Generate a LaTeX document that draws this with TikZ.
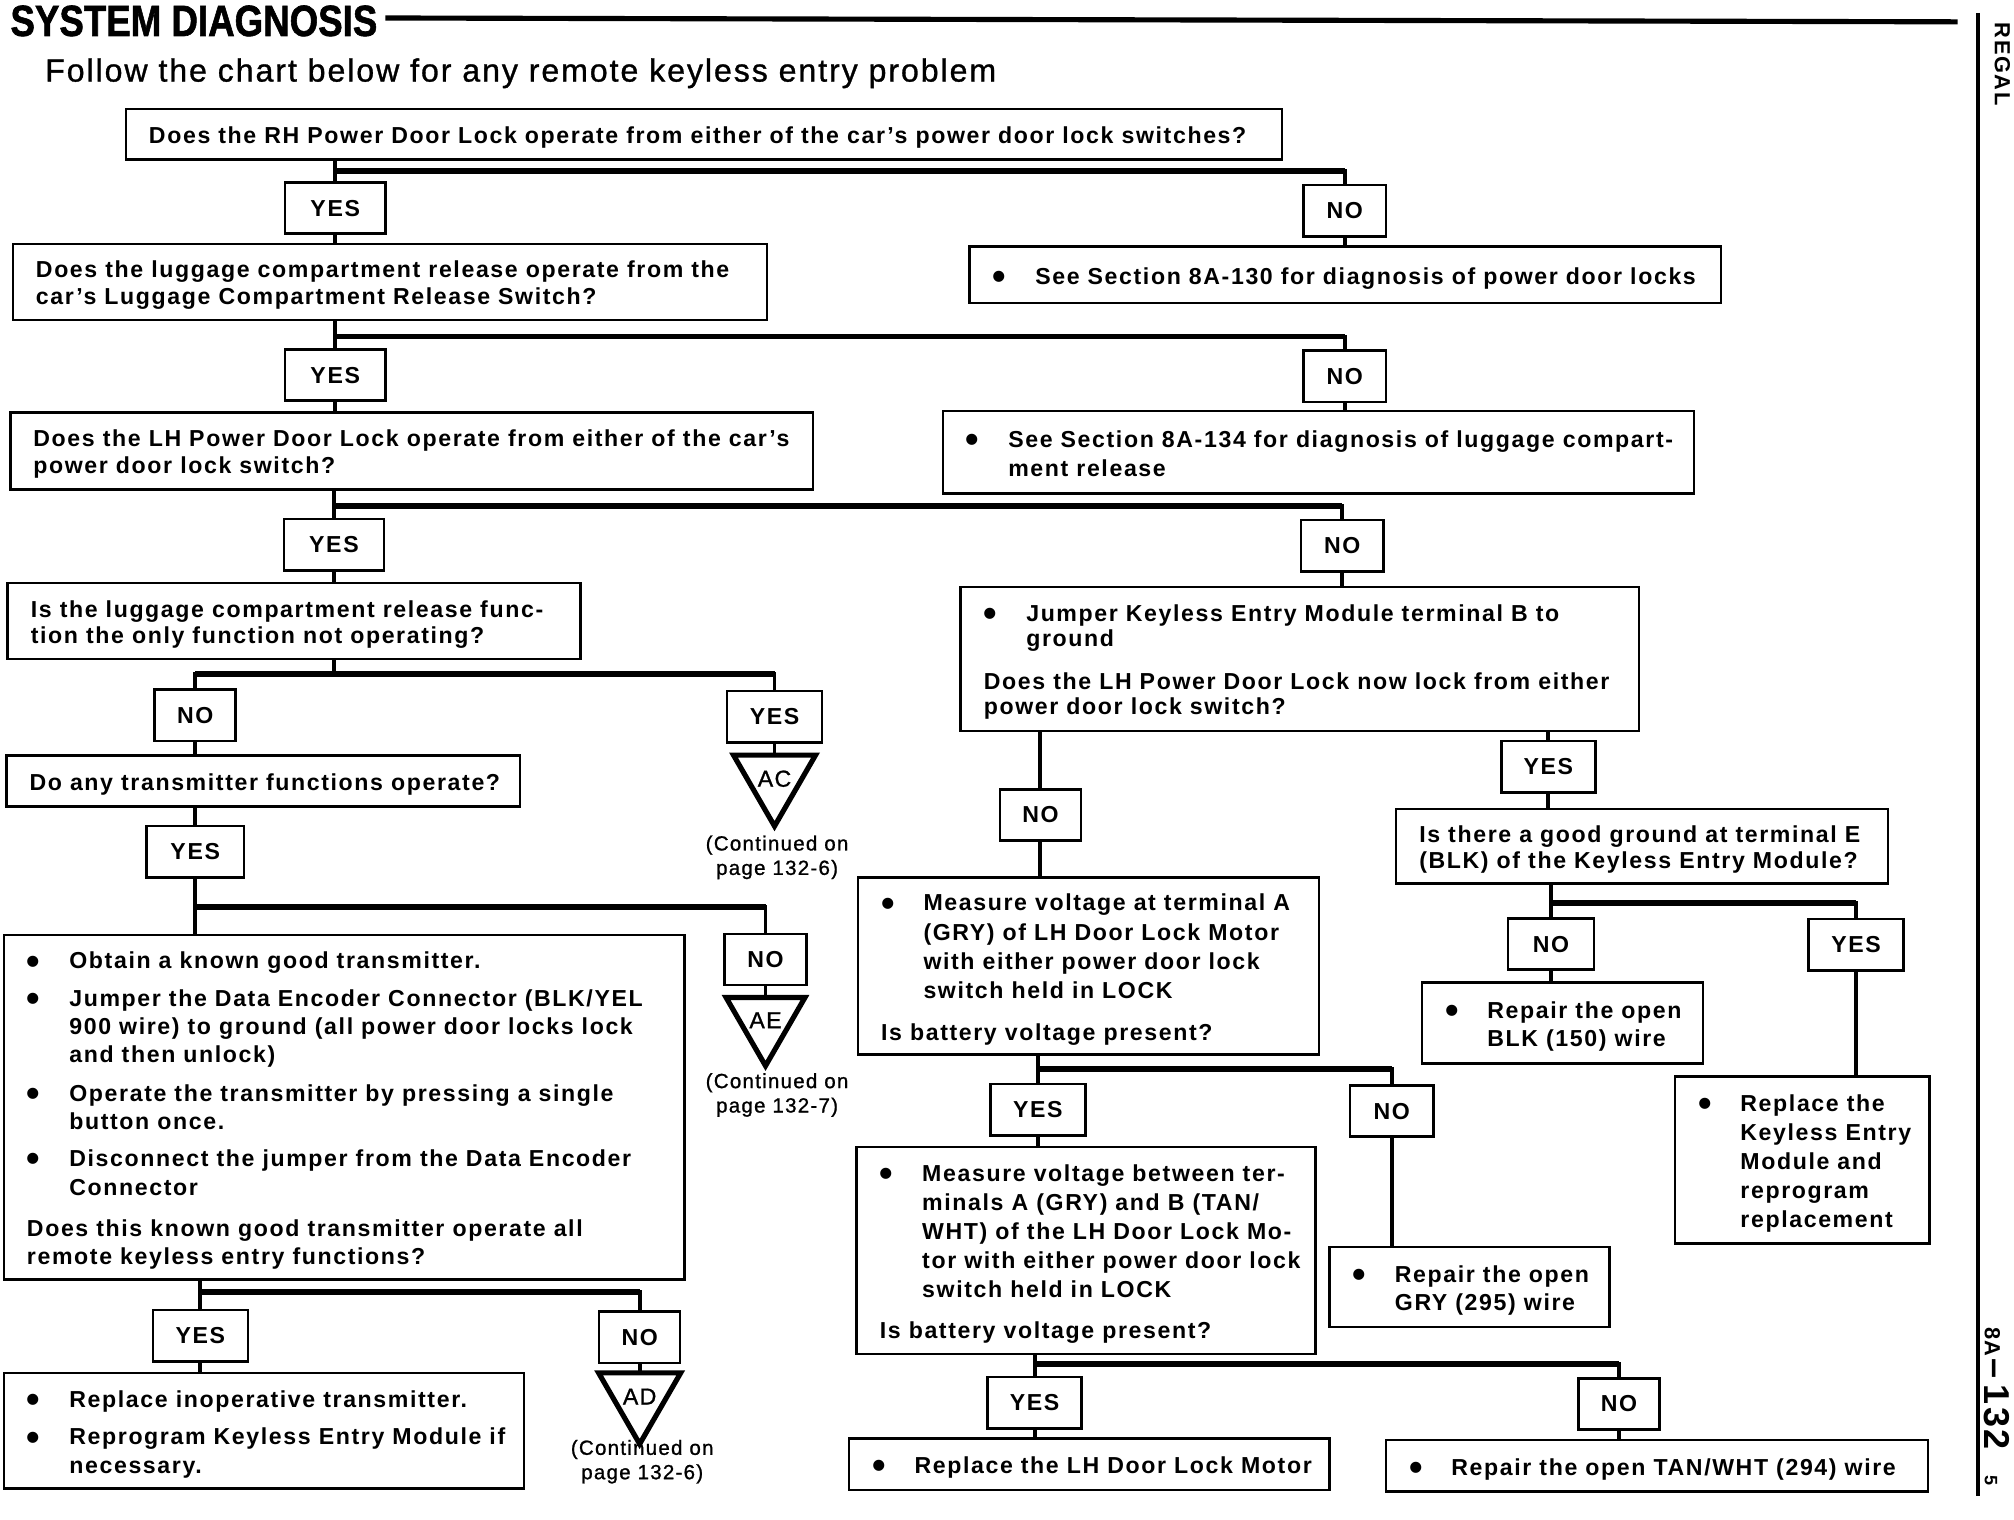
\documentclass[tikz,border=0pt]{standalone}
\usepackage{fontspec}
\setmainfont{Liberation Sans}[LetterSpace=7]
\newfontfamily\titlefont{Liberation Sans}[BoldFeatures={FakeBold=1.5}]
\newfontfamily\subfont{Liberation Sans}[LetterSpace=6, FakeBold=1]
\usetikzlibrary{shapes.geometric}
\newcommand{\bodyfnt}{\bfseries\fontsize{18}{22}\selectfont}
\newcommand{\bulit}{\makebox[33pt][l]{\raisebox{-4pt}{\fontsize{30}{30}\selectfont\textbullet}}}
\newcommand{\hind}{\hspace*{33pt}}
\newcommand{\bt}[3][1]{\makebox[#2pt][l]{\hspace*{18pt}\renewcommand{\arraystretch}{#1}\raisebox{-3pt}[\height][\depth]{\begin{tabular}{@{}l@{}}#3\end{tabular}}}}
\begin{document}
\begin{tikzpicture}[x=1pt,y=-1pt,
  box/.style={draw, line width=2pt, rectangle, anchor=north west, inner sep=0pt, outer sep=0pt, font=\bodyfnt},
  yn/.style={draw, line width=2pt, rectangle, inner sep=0pt, outer sep=0pt, minimum height=40pt, font=\bodyfnt},
  yesb/.style={yn, minimum width=76pt},
  nob/.style={yn, minimum width=64pt},
  conn/.style={line width=3pt},
  bar/.style={line width=4.5pt},
  tri/.style={draw, line width=4pt, regular polygon, regular polygon sides=3, shape border rotate=180, minimum size=61pt, inner sep=0pt, outer sep=0pt, font=\subfont\fontsize{18}{18}\selectfont},
  cont/.style={align=center, inner sep=0pt, font=\subfont\fontsize{16}{19}\selectfont}]
\useasboundingbox[fill=white] (0,0) rectangle (1568,1183);

% header
\node[anchor=base west, inner sep=0pt, font=\titlefont\bfseries\fontsize{34}{34}\selectfont, xscale=0.84] (title) at (8,28) {SYSTEM DIAGNOSIS};
\coordinate (hl1) at (300,14);
\coordinate (hl2) at (1524,17);
\draw[line width=4pt] (hl1) -- (hl2);
\node[anchor=base west, inner sep=0pt, font=\subfont\fontsize{25}{25}\selectfont] (sub) at (35,63.5) {Follow the chart below for any remote keyless entry problem};
\coordinate (r1) at (1540,10);
\coordinate (r2) at (1540,1165);
\draw[line width=2.5pt] (r1) -- (r2);
\node[rotate=-90, inner sep=0pt, font=\bfseries\fontsize{17}{17}\selectfont] (regal) at (1559,50) {REGAL};
\node[rotate=-90, anchor=west, inner sep=0pt, font=\bfseries] (pg) at (1555,1033) {{\fontsize{17}{17}\selectfont 8A}\,{\fontsize{28}{28}\selectfont --\,132}\hspace{20pt}{\fontsize{14}{14}\selectfont 5}};

% left column
\node[box, minimum height=39pt] (Q1) at (98,85) {\bt{900}{Does the RH Power Door Lock operate from either of the car's power door lock switches?}};
\node[yesb, minimum width=78pt] (Y1) at (261,162) {YES};
\node[nob] (N1) at (1047,164) {NO};
\node[box, minimum height=59pt] (Q2) at (10,190) {\bt[0.95]{587}{Does the luggage compartment release operate from the\\car's Luggage Compartment Release Switch?}};
\node[box, minimum height=44pt] (R1) at (755,192) {\bt{585}{\bulit See Section 8A-130 for diagnosis of power door locks}};
\node[yesb, minimum width=78pt] (Y2) at (261,292) {YES};
\node[nob] (N2) at (1047,293) {NO};
\node[box, minimum height=60pt] (Q3) at (8,321) {\bt[0.95]{625}{Does the LH Power Door Lock operate from either of the car's\\power door lock switch?}};
\node[box, minimum height=64pt] (R2) at (734,320) {\bt[1.04]{585}{\bulit See Section 8A-134 for diagnosis of luggage compart-\\\hind ment release}};
\node[yesb, minimum width=78pt] (Y3) at (260,424) {YES};
\node[nob] (N3) at (1045,425) {NO};
\node[box, minimum height=59pt] (Q4) at (6,454) {\bt[0.92]{446}{Is the luggage compartment release func-\\tion the only function not operating?}};
\node[box, minimum height=112pt] (Q5) at (748,457) {\bt[0.91]{528}{\bulit Jumper Keyless Entry Module terminal B to\\\hind ground\\[13pt]Does the LH Power Door Lock now lock from either\\power door lock switch?}};
\node[nob, minimum width=63pt] (N4) at (152,557) {NO};
\node[yesb, minimum width=74pt] (Y4) at (603,558) {YES};
\node[tri] (T1) at (603,606.3) {AC};
\node[cont] (C1) at (605,667.5) {(Continued on\\page 132-6)};
\node[box, minimum height=40pt] (Q6) at (5,588) {\bt{400}{Do any transmitter functions operate?}};
\node[yesb] (Y5) at (152,663) {YES};
\node[nob] (N5) at (596,747) {NO};
\node[tri] (T2) at (596,794.3) {AE};
\node[cont] (C2) at (605,852.5) {(Continued on\\page 132-7)};
\node[box, minimum height=268pt] (Q7) at (3,728) {\bt{530}{\bulit Obtain a known good transmitter.\\[7pt]\bulit Jumper the Data Encoder Connector (BLK/YEL\\\hind 900 wire) to ground (all power door locks lock\\\hind and then unlock)\\[8pt]\bulit Operate the transmitter by pressing a single\\\hind button once.\\[7pt]\bulit Disconnect the jumper from the Data Encoder\\\hind Connector\\[10pt]Does this known good transmitter operate all\\remote keyless entry functions?}};
\node[yesb, minimum width=74pt] (Y6) at (156,1040) {YES};
\node[nob, minimum width=63pt] (N6) at (498,1041) {NO};
\node[box, minimum height=90pt] (R3) at (3,1069) {\bt{405}{\bulit Replace inoperative transmitter.\\[7pt]\bulit Reprogram Keyless Entry Module if\\\hind necessary.}};
\node[tri] (T3) at (498,1087.3) {AD};
\node[cont] (C3) at (500,1138) {(Continued on\\page 132-6)};

% right column
\node[nob, minimum width=63pt] (N7) at (810,634.5) {NO};
\node[yesb, minimum width=73pt] (Y7) at (1205.5,597) {YES};
\node[box, minimum height=58pt] (Q8) at (1087,630) {\bt[0.92]{383}{Is there a good ground at terminal E\\(BLK) of the Keyless Entry Module?}};
\node[box, minimum height=138pt] (Q9) at (668,683) {\bt[1.03]{359}{\bulit Measure voltage at terminal A\\\hind (GRY) of LH Door Lock Motor\\\hind with either power door lock\\\hind switch held in LOCK\\[10pt]Is battery voltage present?}};
\node[nob, minimum width=67pt] (N8) at (1207.5,735) {NO};
\node[yesb, minimum width=74pt] (Y8) at (1445,735.5) {YES};
\node[box, minimum height=63pt] (R4) at (1107,765) {\bt{219}{\bulit Repair the open\\\hind BLK (150) wire}};
\node[box, minimum height=130pt] (R5) at (1304,838) {\bt[1.03]{198}{\bulit Replace the\\\hind Keyless Entry\\\hind Module and\\\hind reprogram\\\hind replacement}};
\node[yesb, minimum width=74pt] (Y9) at (808,864) {YES};
\node[nob, minimum width=65pt] (N9) at (1083.5,865) {NO};
\node[box, minimum height=62pt] (R6) at (1035,971) {\bt{218}{\bulit Repair the open\\\hind GRY (295) wire}};
\node[box, minimum height=161pt] (Q10) at (667,893) {\bt[1.03]{357}{\bulit Measure voltage between ter-\\\hind minals A (GRY) and B (TAN/\\\hind WHT) of the LH Door Lock Mo-\\\hind tor with either power door lock\\\hind switch held in LOCK\\[9pt]Is battery voltage present?}};
\node[yesb, minimum width=73pt] (Y10) at (805.5,1092) {YES};
\node[nob, minimum width=63pt] (N10) at (1260.5,1093) {NO};
\node[box, minimum height=40pt] (R7) at (661,1120) {\bt{374}{\bulit Replace the LH Door Lock Motor}};
\node[box, minimum height=40pt] (R8) at (1079,1121) {\bt{422}{\bulit Repair the open TAN/WHT (294) wire}};

% connectors
\coordinate (j1) at (261,133);
\draw[conn] (Q1.south -| j1) -- (Y1.north);
\draw[conn] (j1) -| (N1.north);
\draw[bar] (j1) -- (j1 -| N1.north);
\draw[conn] (Y1.south) -- (Q2.north -| Y1.south);
\draw[conn] (N1.south) -- (R1.north -| N1.south);

\coordinate (j2) at (261,262);
\draw[conn] (Q2.south -| j2) -- (Y2.north);
\draw[conn] (j2) -| (N2.north);
\draw[bar] (j2) -- (j2 -| N2.north);
\draw[conn] (Y2.south) -- (Q3.north -| Y2.south);
\draw[conn] (N2.south) -- (R2.north -| N2.south);

\coordinate (j3) at (260,394);
\draw[conn] (Q3.south -| j3) -- (Y3.north);
\draw[conn] (j3) -| (N3.north);
\draw[bar] (j3) -- (j3 -| N3.north);
\draw[conn] (Y3.south) -- (Q4.north -| Y3.south);
\draw[conn] (N3.south) -- (Q5.north -| N3.south);

\coordinate (j4) at (260,525);
\draw[conn] (Q4.south -| j4) -- (j4);
\draw[conn] (N4.north) |- (j4 -| Y4.north) -- (Y4.north);
\draw[bar] (j4 -| N4.north) -- (j4 -| Y4.north);
\draw[conn] (N4.south) -- (Q6.north -| N4.south);
\draw[conn] (Q6.south -| Y5.north) -- (Y5.north);
\draw[conn] (Y4.south) -- (T1.90);

\coordinate (j5) at (152,706);
\draw[conn] (Y5.south) -- (Q7.north -| Y5.south);
\draw[conn] (j5) -| (N5.north);
\draw[bar] (j5) -- (j5 -| N5.north);
\draw[conn] (N5.south) -- (T2.90);

\coordinate (j6) at (156,1006);
\draw[conn] (Q7.south -| j6) -- (Y6.north);
\draw[conn] (j6) -| (N6.north);
\draw[bar] (j6) -- (j6 -| N6.north);
\draw[conn] (Y6.south) -- (R3.north -| Y6.south);
\draw[conn] (N6.south) -- (T3.90);

\draw[conn] (Q5.south -| N7.north) -- (N7.north);
\draw[conn] (Q5.south -| Y7.north) -- (Y7.north);
\draw[conn] (N7.south) -- (Q9.north -| N7.south);
\draw[conn] (Y7.south) -- (Q8.north -| Y7.south);

\coordinate (j8) at (1207.5,703);
\draw[conn] (Q8.south -| j8) -- (N8.north);
\draw[conn] (j8) -| (Y8.north);
\draw[bar] (j8) -- (j8 -| Y8.north);
\draw[conn] (N8.south) -- (R4.north -| N8.south);
\draw[conn] (Y8.south) -- (R5.north -| Y8.south);

\coordinate (j9) at (808,832);
\draw[conn] (Q9.south -| j9) -- (Y9.north);
\draw[conn] (j9) -| (N9.north);
\draw[bar] (j9) -- (j9 -| N9.north);
\draw[conn] (Y9.south) -- (Q10.north -| Y9.south);
\draw[conn] (N9.south) -- (R6.north -| N9.south);

\coordinate (j10) at (805.5,1062);
\draw[conn] (Q10.south -| j10) -- (Y10.north);
\draw[conn] (j10) -| (N10.north);
\draw[bar] (j10) -- (j10 -| N10.north);
\draw[conn] (Y10.south) -- (R7.north -| Y10.south);
\draw[conn] (N10.south) -- (R8.north -| N10.south);
\end{tikzpicture}
\end{document}
